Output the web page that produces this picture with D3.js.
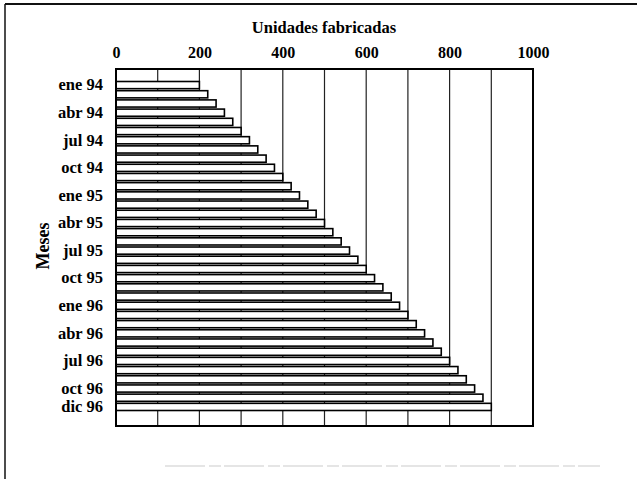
<!DOCTYPE html>
<html>
<head>
<meta charset="utf-8">
<script src="https://cdn.jsdelivr.net/npm/d3@7"></script>
<style>
  body { margin: 0; background: #fff; }
  text { font-family: "Liberation Serif", "Times New Roman", serif; font-weight: bold; fill: #000; }
</style>
</head>
<body>
<div id="chart"></div>
<script>
// Monthly production, ene 94 .. dic 96
const meses = [
  "ene 94", "feb 94", "mar 94", "abr 94", "may 94", "jun 94",
  "jul 94", "ago 94", "sep 94", "oct 94", "nov 94", "dic 94",
  "ene 95", "feb 95", "mar 95", "abr 95", "may 95", "jun 95",
  "jul 95", "ago 95", "sep 95", "oct 95", "nov 95", "dic 95",
  "ene 96", "feb 96", "mar 96", "abr 96", "may 96", "jun 96",
  "jul 96", "ago 96", "sep 96", "oct 96", "nov 96", "dic 96"
];
const unidades = [
  200, 220, 240, 260, 280, 300, 320, 340, 360, 380, 400, 420,
  440, 460, 480, 500, 520, 540, 560, 580, 600, 620, 640, 660,
  680, 700, 720, 740, 760, 780, 800, 820, 840, 860, 880, 900
];
const etiquetasMes = [
  "ene 94", "abr 94", "jul 94", "oct 94",
  "ene 95", "abr 95", "jul 95", "oct 95",
  "ene 96", "abr 96", "jul 96", "oct 96", "dic 96"
];
const ticksX = [0, 200, 400, 600, 800, 1000];
const gridX = [100, 200, 300, 400, 500, 600, 700, 800, 900];

const width = 637;
const height = 479;
const plot = { left: 116, right: 533, top: 69, bottom: 426 };

const svg = d3.select("#chart")
  .append("svg")
  .attr("width", width)
  .attr("height", height);

// scanned page frame
svg.append("line")
  .attr("x1", 5).attr("x2", width).attr("y1", 4).attr("y2", 4)
  .attr("stroke", "#111").attr("stroke-width", 2);
svg.append("line")
  .attr("x1", 5).attr("x2", 5).attr("y1", 4).attr("y2", height)
  .attr("stroke", "#111").attr("stroke-width", 1.5);
svg.append("line")
  .attr("x1", 165).attr("x2", 600).attr("y1", 466).attr("y2", 466)
  .attr("stroke", "#ddd").attr("stroke-width", 1.5)
  .attr("stroke-dasharray", "40 4 12 3");

const x = d3.scaleLinear()
  .domain([0, 1000])
  .range([plot.left, plot.right]);

const y = d3.scaleBand()
  .domain(meses)
  .range([81.5, 410.5])
  .paddingInner(0.22)
  .paddingOuter(0);

// gridlines
svg.selectAll(".grid")
  .data(gridX)
  .join("line")
  .attr("class", "grid")
  .attr("x1", d => x(d)).attr("x2", d => x(d))
  .attr("y1", plot.top).attr("y2", plot.bottom)
  .attr("stroke", "#222")
  .attr("stroke-width", 1.2);

// bars
svg.selectAll(".bar")
  .data(unidades)
  .join("rect")
  .attr("class", "bar")
  .attr("x", x(0))
  .attr("y", (d, i) => y(meses[i]))
  .attr("width", d => x(d) - x(0))
  .attr("height", y.bandwidth())
  .attr("fill", "#fff")
  .attr("stroke", "#000")
  .attr("stroke-width", 1.6);

// plot border
svg.append("rect")
  .attr("x", plot.left).attr("y", plot.top)
  .attr("width", plot.right - plot.left)
  .attr("height", plot.bottom - plot.top)
  .attr("fill", "none")
  .attr("stroke", "#000")
  .attr("stroke-width", 2);

// top value axis
const xAxis = svg.append("g")
  .attr("transform", `translate(0,${plot.top})`)
  .call(d3.axisTop(x).tickValues(ticksX).tickFormat(d3.format("d")).tickSize(0).tickPadding(11));
xAxis.select(".domain").remove();
xAxis.selectAll("text")
  .attr("font-size", "16px")
  .style("font-family", "'Liberation Serif', serif")
  .style("font-weight", "bold")
  .attr("fill", "#000");

// month axis
const yAxis = svg.append("g")
  .attr("transform", `translate(${plot.left},0)`)
  .call(d3.axisLeft(y).tickValues(etiquetasMes).tickSize(0).tickPadding(13));
yAxis.select(".domain").remove();
yAxis.selectAll("text")
  .attr("font-size", "16.5px")
  .style("font-family", "'Liberation Serif', serif")
  .style("font-weight", "bold")
  .attr("fill", "#000");

// titles
svg.append("text")
  .attr("x", 324)
  .attr("y", 33)
  .attr("text-anchor", "middle")
  .attr("font-size", "16.5px")
  .text("Unidades fabricadas");

svg.append("text")
  .attr("transform", "translate(49,246) rotate(-90)")
  .attr("text-anchor", "middle")
  .attr("font-size", "18px")
  .text("Meses");
</script>
</body>
</html>
